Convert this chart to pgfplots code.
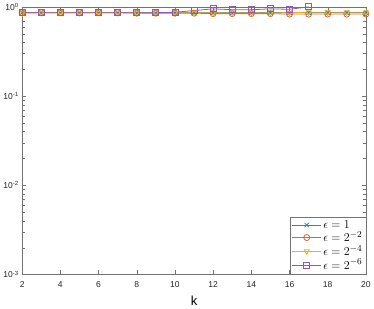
\documentclass[border=0pt]{standalone}
\usepackage{pgfplots}
\pgfplotsset{compat=1.18}
\usepackage{fontspec}
\setmainfont{Liberation Sans}
\definecolor{mblue}{rgb}{0,0.447,0.741}
\definecolor{morange}{rgb}{0.85,0.325,0.098}
\definecolor{myellow}{rgb}{0.929,0.694,0.125}
\definecolor{mpurple}{rgb}{0.494,0.184,0.556}
\begin{document}
\begin{tikzpicture}
\begin{axis}[
  scale only axis, width=343pt, height=267pt,
  ymode=log, ymin=1e-3, ymax=1,
  xmin=2, xmax=20, xtick={2,4,...,20},
  xticklabels={2,4,6,8,10,12,14,16,18,20},
  ytick={1e-3,1e-2,1e-1,1},
  yticklabels={10\textsuperscript{-3},10\textsuperscript{-2},10\textsuperscript{-1},10\textsuperscript{0}},
  xticklabel style={yshift=-4pt},
  xlabel={k}, xlabel style={font=\fontsize{13}{13}\selectfont, yshift=-1pt},
  tick label style={font=\fontsize{8.5}{8.5}\selectfont, text=black!85},
  axis line style={black!55},
  tick style={black!55},
  tick align=inside,
  legend style={at={(1,0)}, anchor=south east, font=\fontsize{12.5}{12.5}\selectfont, draw=black!55, inner sep=1.5pt, row sep=-2pt, cells={anchor=west}},
  legend cell align=left,
  legend image code/.code={\draw[mark repeat=2,mark phase=2] plot coordinates {(0cm,0cm) (0.5cm,0cm) (1cm,0cm)};},
  every axis plot/.append style={line width=0.8pt, mark size=3pt},
]
\addplot[color=mblue!85!white, mark=x, mark options={draw=mblue!85!white, fill=none}] coordinates {(2,0.86)(3,0.86)(4,0.86)(5,0.86)(6,0.86)(7,0.86)(8,0.86)(9,0.86)(10,0.86)(11,0.86)(12,0.86)(13,0.86)(14,0.86)(15,0.86)(16,0.86)(17,0.86)(18,0.86)(19,0.86)(20,0.86)};
\addlegendentry{$\epsilon=1$}
\addplot[color=morange!90!white, mark=o, mark options={draw=morange!90!white, fill=none}] coordinates {(2,0.86)(3,0.86)(4,0.86)(5,0.86)(6,0.86)(7,0.86)(8,0.85)(9,0.85)(10,0.85)(11,0.85)(12,0.84)(13,0.84)(14,0.84)(15,0.84)(16,0.83)(17,0.83)(18,0.83)(19,0.83)(20,0.83)};
\addlegendentry{$\epsilon=2^{-2}$}
\addplot[color=myellow, mark=triangle, mark options={rotate=180, draw=myellow, fill=none}] coordinates {(2,0.85)(3,0.86)(4,0.86)(5,0.86)(6,0.86)(7,0.86)(8,0.86)(9,0.86)(10,0.86)(11,0.86)(12,0.86)(13,0.86)(14,0.86)(15,0.86)(16,0.86)(17,0.87)(18,0.87)(19,0.87)(20,0.87)};
\addlegendentry{$\epsilon=2^{-4}$}
\addplot[color=mpurple!80!white, mark=square, mark options={draw=mpurple!80!white, fill=none}] coordinates {(2,0.86)(3,0.86)(4,0.86)(5,0.86)(6,0.86)(7,0.86)(8,0.86)(9,0.86)(10,0.87)(11,0.91)(12,0.95)(13,0.93)(14,0.93)(15,0.95)(16,0.94)(17,1.0)};
\addlegendentry{$\epsilon=2^{-6}$}
\end{axis}
\end{tikzpicture}
\end{document}
